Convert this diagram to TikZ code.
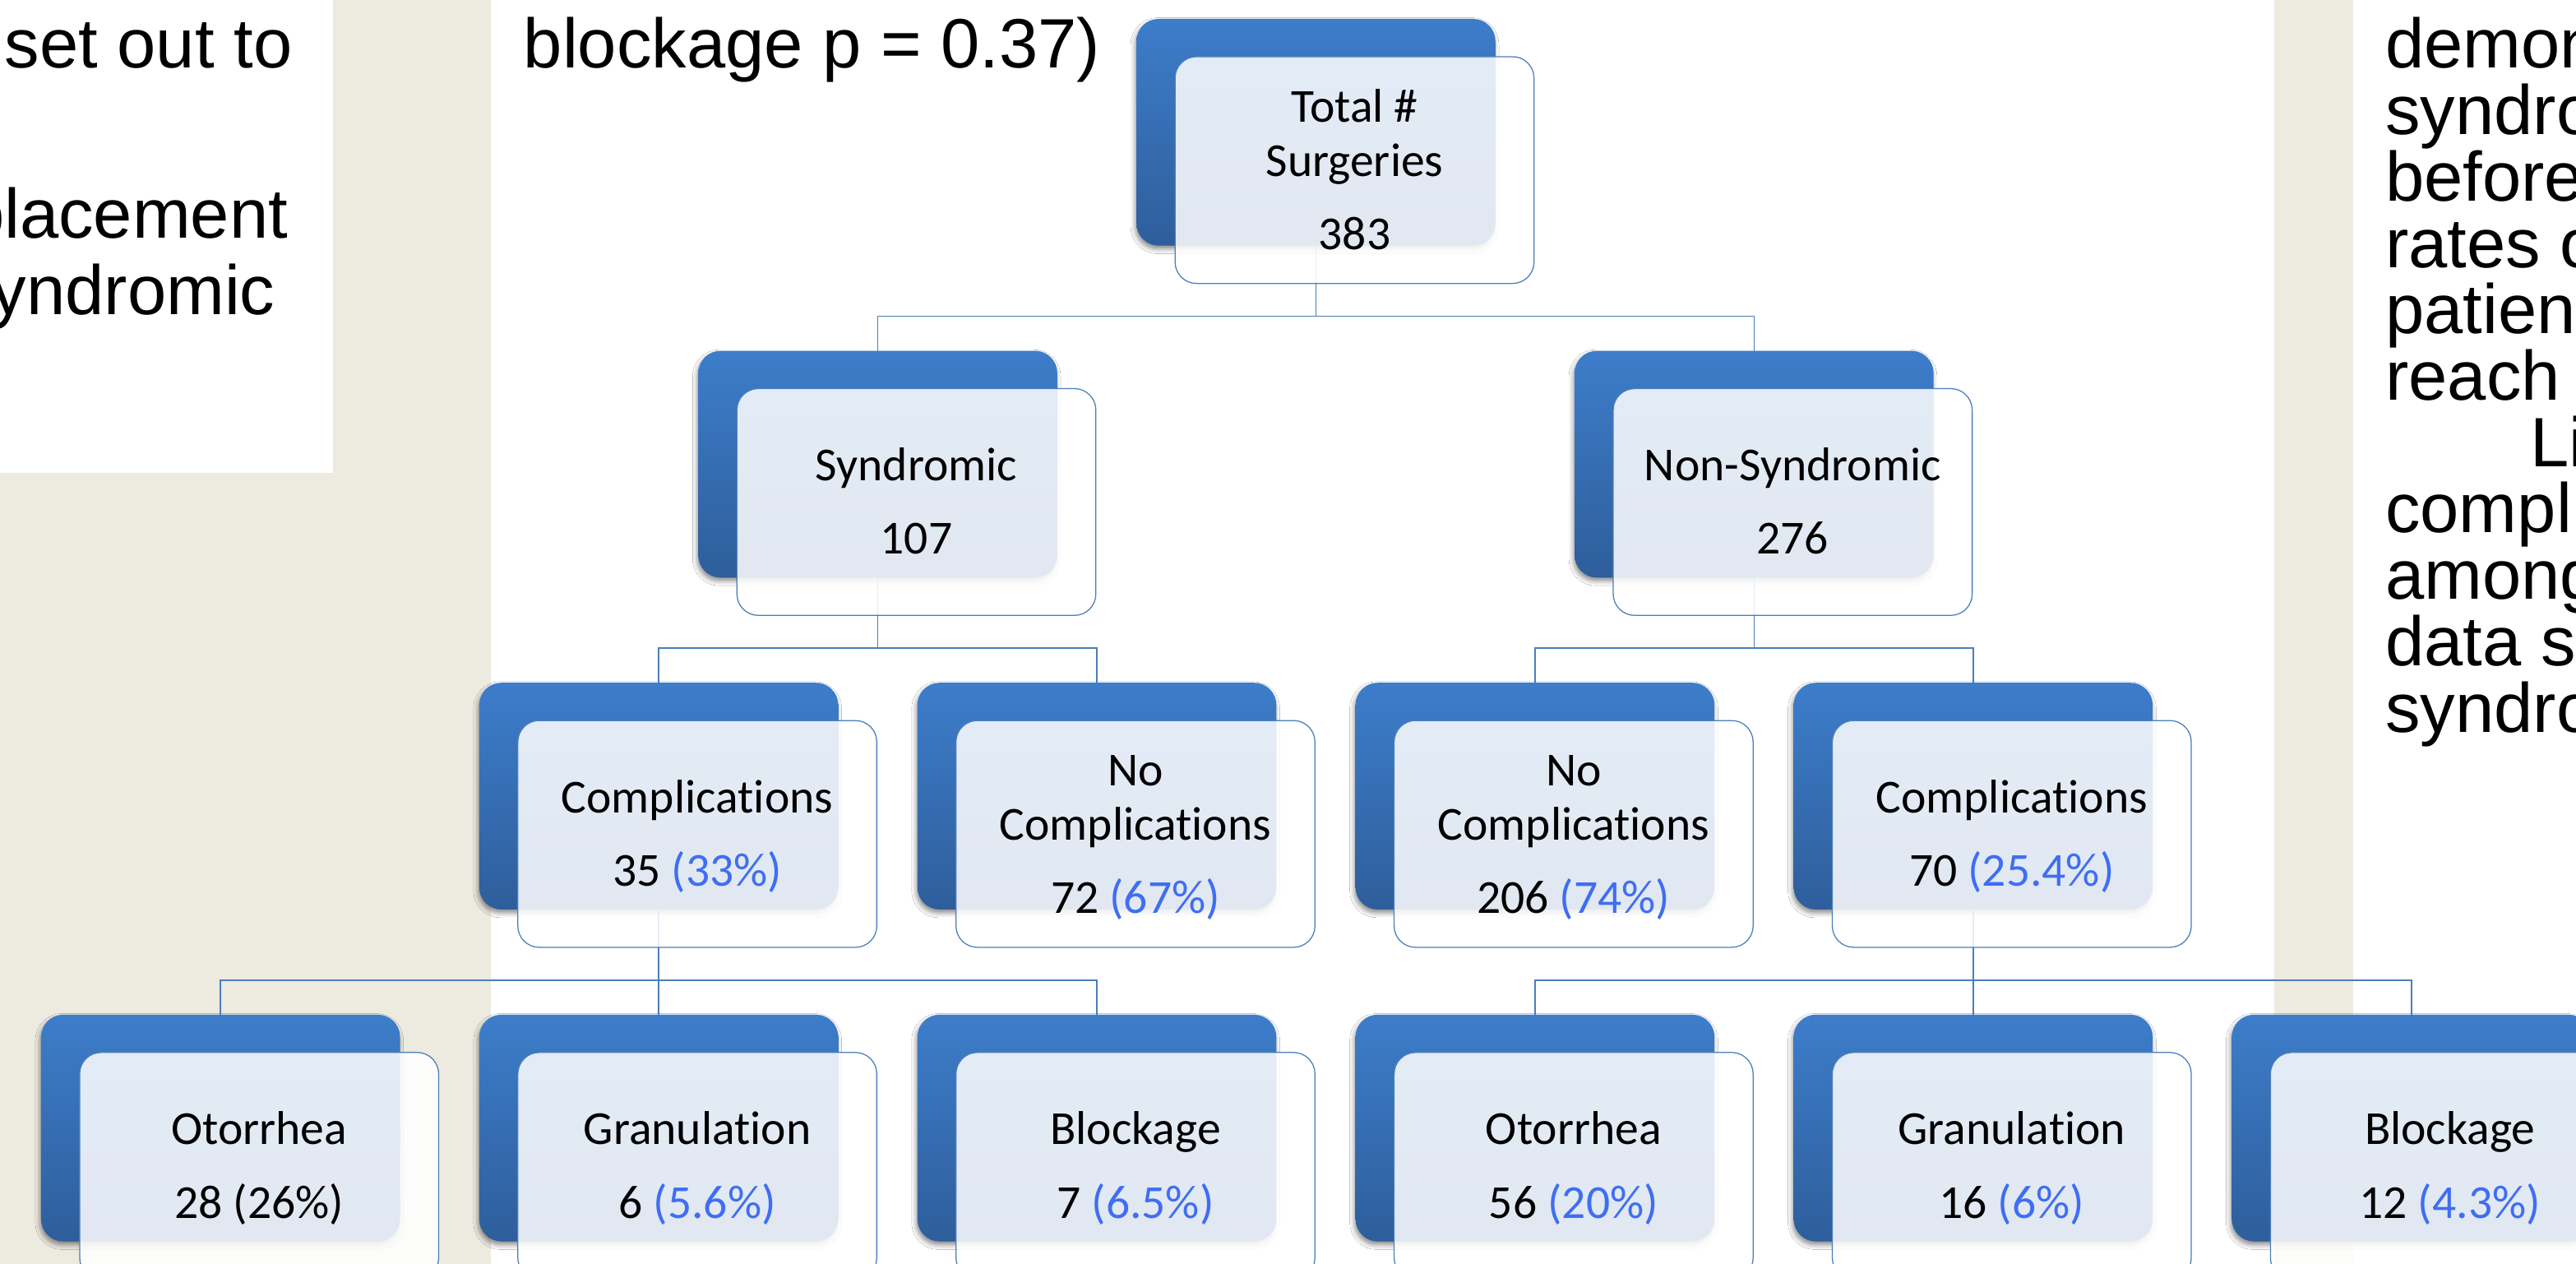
\documentclass[tikz,border=0pt]{standalone}
\usepackage{fontspec}
\setmainfont{Carlito}[Ligatures=NoCommon]
\newfontfamily\arialf{Liberation Sans}
\usetikzlibrary{shadows.blur}
\definecolor{beige}{HTML}{EDEAE0}
\definecolor{boxtop}{HTML}{3D7DCA}
\definecolor{boxbot}{HTML}{2E5E9B}
\definecolor{lineblue}{HTML}{4A7EBB}
\definecolor{pctblue}{HTML}{3F6EF4}
\newcommand{\pct}[1]{\textcolor{pctblue}{#1}}
\newcommand{\tstrut}{\rule{0pt}{41pt}}
\begin{document}
\begin{tikzpicture}[x=0.05cm,y=-0.05cm,
  backbox/.style={rectangle, rounded corners=0.675cm, minimum width=10.925cm, minimum height=6.9cm,
    inner sep=0pt, outer sep=0pt, top color=boxtop, bottom color=boxbot,
    blur shadow={shadow xshift=-1pt, shadow yshift=-3pt, shadow blur radius=4pt, shadow opacity=45}},
  frontbox/.style={rectangle, rounded corners=0.65cm, minimum width=10.925cm, minimum height=6.9cm,
    inner sep=0pt, outer sep=0pt, draw=lineblue, line width=0.9pt, fill=white, fill opacity=0.86,
    text opacity=1, align=center, font=\fontsize{41}{47}\selectfont},
  conn/.style={draw=lineblue, line width=1.2pt},
  sidetxt/.style={inner sep=0pt, outer sep=0pt, anchor=base west, font=\arialf\fontsize{60.5}{57.5}\selectfont}
]
\useasboundingbox (0,0) rectangle (1568,769);
% backgrounds
\fill[beige] (0,0) rectangle (1568,769);
\fill[white] (0,0) rectangle (202.5,288);
\fill[white] (299,0) rectangle (1384.5,769);
\fill[white] (1432.5,0) rectangle (1568,769);

% side texts
\node[sidetxt] (lt1) at (2.9,41.5) {set out to};
\node[sidetxt] (lt2) at (-21,145) {placement};
\node[sidetxt] (lt3) at (-5.1,191.5) {yndromic};
\node[sidetxt] (tt) at (318.7,41.5) {blockage p = 0.37)};
\node[sidetxt] (rt1) at (1452,41.5) {demon};
\node[sidetxt] (rt2) at (1452,82) {syndro};
\node[sidetxt] (rt3) at (1452,122.3) {before};
\node[sidetxt] (rt4) at (1452,162.7) {rates o};
\node[sidetxt] (rt5) at (1452,203) {patien};
\node[sidetxt] (rt6) at (1452,243.5) {reach};
\node[sidetxt] (rt7) at (1540,284) {Li};
\node[sidetxt] (rt8) at (1452,324.3) {compl};
\node[sidetxt] (rt9) at (1452,364.7) {among};
\node[sidetxt] (rt10) at (1452,405) {data s};
\node[sidetxt] (rt11) at (1452,445.5) {syndro};

% back boxes
\node[backbox] (root-b) at (801,80.5) {};
\node[backbox] (syn-b) at (534.3,282.5) {};
\node[backbox] (nsyn-b) at (1067.7,282.5) {};
\node[backbox] (c1-b) at (400.95,484.5) {};
\node[backbox] (c2-b) at (667.65,484.5) {};
\node[backbox] (c3-b) at (934.35,484.5) {};
\node[backbox] (c4-b) at (1201.05,484.5) {};
\node[backbox] (d1-b) at (134.25,686.5) {};
\node[backbox] (d2-b) at (400.95,686.5) {};
\node[backbox] (d3-b) at (667.65,686.5) {};
\node[backbox] (d4-b) at (934.35,686.5) {};
\node[backbox] (d5-b) at (1201.05,686.5) {};
\node[backbox] (d6-b) at (1467.75,686.5) {};

% connectors
\coordinate (bar1) at (0,192.5);
\coordinate (bar2) at (0,394.5);
\coordinate (bar3) at (0,596.5);
\draw[conn] (root-b.south) -- (root-b.south |- bar1) -| (syn-b.north);
\draw[conn] (root-b.south |- bar1) -| (nsyn-b.north);
\draw[conn] (syn-b.south) -- (syn-b.south |- bar2) -| (c1-b.north);
\draw[conn] (syn-b.south |- bar2) -| (c2-b.north);
\draw[conn] (nsyn-b.south) -- (nsyn-b.south |- bar2) -| (c3-b.north);
\draw[conn] (nsyn-b.south |- bar2) -| (c4-b.north);
\draw[conn] (c1-b.south) -- (c1-b.south |- bar3) -| (d1-b.north);
\draw[conn] (c1-b.south |- bar3) -- (d2-b.north);
\draw[conn] (c1-b.south |- bar3) -| (d3-b.north);
\draw[conn] (c4-b.south) -- (c4-b.south |- bar3) -| (d4-b.north);
\draw[conn] (c4-b.south |- bar3) -- (d5-b.north);
\draw[conn] (c4-b.south |- bar3) -| (d6-b.north);

% front boxes with text
\node[frontbox] (root) at (824.5,103.5) {\tstrut Total \#\\ \strut Surgeries\\[16.5pt] \strut 383};
\node[frontbox] (syn) at (557.8,305.5) {\tstrut Syndromic\\[16.5pt] \strut 107};
\node[frontbox] (nsyn) at (1091.2,305.5) {\tstrut Non-Syndromic\\[16.5pt] \strut 276};
\node[frontbox] (c1) at (424.45,507.5) {\tstrut Complications\\[16.5pt] \strut 35 \pct{(33\%)}};
\node[frontbox] (c2) at (691.15,507.5) {\tstrut No\\ \strut Complications\\[16.5pt] \strut 72 \pct{(67\%)}};
\node[frontbox] (c3) at (957.85,507.5) {\tstrut No\\ \strut Complications\\[16.5pt] \strut 206 \pct{(74\%)}};
\node[frontbox] (c4) at (1224.55,507.5) {\tstrut Complications\\[16.5pt] \strut 70 \pct{(25.4\%)}};
\node[frontbox] (d1) at (157.75,709.5) {\tstrut Otorrhea\\[16.5pt] \strut 28 (26\%)};
\node[frontbox] (d2) at (424.45,709.5) {\tstrut Granulation\\[16.5pt] \strut 6 \pct{(5.6\%)}};
\node[frontbox] (d3) at (691.15,709.5) {\tstrut Blockage\\[16.5pt] \strut 7 \pct{(6.5\%)}};
\node[frontbox] (d4) at (957.85,709.5) {\tstrut Otorrhea\\[16.5pt] \strut 56 \pct{(20\%)}};
\node[frontbox] (d5) at (1224.55,709.5) {\tstrut Granulation\\[16.5pt] \strut 16 \pct{(6\%)}};
\node[frontbox] (d6) at (1491.25,709.5) {\tstrut Blockage\\[16.5pt] \strut 12 \pct{(4.3\%)}};
\end{tikzpicture}
\end{document}
